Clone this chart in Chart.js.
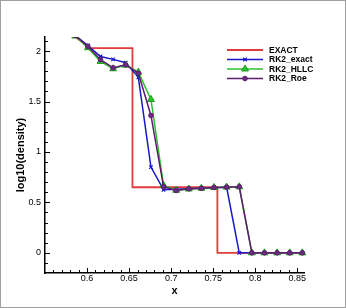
<!DOCTYPE html>
<html>
<head>
<meta charset="utf-8">
<script src="https://cdn.jsdelivr.net/npm/chart.js"></script>
<style>
  html, body { margin: 0; padding: 0; background: #fff; }
  #frame { position: absolute; left: 0; top: 0; width: 344px; height: 306px; border: 1px solid #a0a0a0; }
  #grafico { position: absolute; left: -1px; top: -1px; }
</style>
</head>
<body>
<div id="frame"><canvas id="grafico" width="346" height="308"></canvas></div>
<script>
// grid points of the numerical solutions
const xGrid = [0.571, 0.586, 0.601, 0.616, 0.631, 0.646, 0.661, 0.676, 0.691, 0.706,
  0.721, 0.736, 0.751, 0.766, 0.781, 0.796, 0.811, 0.826, 0.841, 0.856];
const rk2Exact = [2.26, 2.155, 2.056, 1.947, 1.918, 1.885, 1.74, 0.85, 0.625, 0.63,
  0.635, 0.64, 0.645, 0.65, 0, 0, 0, 0, 0, 0];
const rk2Hllc = [2.25, 2.15, 2.034, 1.898, 1.825, 1.861, 1.792, 1.521, 0.668, 0.62,
  0.633, 0.64, 0.648, 0.652, 0.655, 0, 0, 0, 0, 0];
const rk2Roe = [2.25, 2.155, 2.047, 1.915, 1.835, 1.865, 1.78, 1.362, 0.655, 0.618,
  0.635, 0.64, 0.648, 0.651, 0.655, 0, 0, 0, 0, 0];

// exact solution (piecewise)
const exactX = [0.575, 0.6036, 0.654, 0.654, 0.755, 0.755, 0.858];
const exactY = [2.21, 2.03, 2.03, 0.65, 0.65, 0, 0];

const xTicks = [0.6, 0.65, 0.7, 0.75, 0.8, 0.85];
const yTicks = [0, 0.5, 1, 1.5, 2];

function pares(xs, ys) {
  return xs.map((x, i) => ({ x: x, y: ys[i] }));
}

// tecplot-like inward ticks
const ticksDentro = {
  id: "ticksDentro",
  afterDraw(chart) {
    const { ctx, chartArea } = chart;
    const sx = chart.scales.x;
    const sy = chart.scales.y;
    ctx.save();
    ctx.strokeStyle = "#000";
    ctx.lineWidth = 1;
    ctx.beginPath();
    for (let k = 56; k <= 85; k++) {
      const px = Math.round(sx.getPixelForValue(k / 100)) + 0.5;
      const len = k % 5 === 0 ? 5 : 3;
      ctx.moveTo(px, chartArea.bottom);
      ctx.lineTo(px, chartArea.bottom - len);
    }
    for (let k = -1; k <= 21; k++) {
      const py = Math.round(sy.getPixelForValue(k / 10)) + 0.5;
      const len = k % 5 === 0 ? 5 : 3;
      ctx.moveTo(chartArea.left, py);
      ctx.lineTo(chartArea.left + len, py);
    }
    ctx.stroke();
    ctx.restore();
  },
};

// legend drawn in the upper right
const legendaTecplot = {
  id: "legendaTecplot",
  afterDraw(chart) {
    const ctx = chart.ctx;
    ctx.save();
    chart.data.datasets.forEach((ds, i) => {
      const yy = 50 + i * 9.5;
      ctx.strokeStyle = ds.borderColor;
      ctx.lineWidth = ds.borderWidth;
      ctx.beginPath();
      ctx.moveTo(227, yy);
      ctx.lineTo(263, yy);
      ctx.stroke();
      if (ds.pointRadius > 0) {
        ctx.fillStyle = ds.pointBackgroundColor;
        ctx.strokeStyle = ds.pointBorderColor;
        ctx.lineWidth = ds.pointBorderWidth;
        Chart.helpers.drawPoint(ctx, {
          pointStyle: ds.pointStyle,
          radius: ds.pointRadius,
          rotation: 0,
          borderWidth: ds.pointBorderWidth,
        }, 245, yy);
      }
      ctx.fillStyle = "#000";
      ctx.font = "bold 8.5px 'Liberation Sans', Arial, sans-serif";
      ctx.textBaseline = "middle";
      ctx.textAlign = "left";
      ctx.fillText(ds.label, 269, yy + 0.5);
    });
    ctx.restore();
  },
};

const fonteTicks = { family: "'Liberation Sans', Arial, sans-serif", size: 9 };
const fonteTitulo = { family: "'Liberation Sans', Arial, sans-serif", size: 11, weight: "bold" };
const recorte = { top: 0, left: 0, right: 8, bottom: 8 };

new Chart(document.getElementById("grafico"), {
  type: "scatter",
  data: {
    datasets: [
      {
        label: "EXACT",
        data: pares(exactX, exactY),
        showLine: true,
        borderColor: "#e23b3b",
        borderWidth: 1.8,
        pointRadius: 0,
        pointBorderWidth: 0,
        order: 4,
        clip: recorte,
      },
      {
        label: "RK2_exact",
        data: pares(xGrid, rk2Exact),
        showLine: true,
        borderColor: "#1818c8",
        borderWidth: 1.5,
        pointStyle: "crossRot",
        pointRadius: 2.5,
        pointBorderWidth: 1.2,
        pointBorderColor: "#1818c8",
        pointBackgroundColor: "#1818c8",
        order: 3,
        clip: recorte,
      },
      {
        label: "RK2_HLLC",
        data: pares(xGrid, rk2Hllc),
        showLine: true,
        borderColor: "#2cc22c",
        borderWidth: 1.5,
        pointStyle: "triangle",
        pointRadius: 4,
        pointBorderWidth: 1,
        pointBorderColor: "#1f9a1f",
        pointBackgroundColor: "#2cc22c",
        order: 2,
        clip: recorte,
      },
      {
        label: "RK2_Roe",
        data: pares(xGrid, rk2Roe),
        showLine: true,
        borderColor: "#5e1a6e",
        borderWidth: 1.5,
        pointStyle: "circle",
        pointRadius: 2.3,
        pointBorderWidth: 1,
        pointBorderColor: "#5e1a6e",
        pointBackgroundColor: "#6e2a80",
        order: 1,
        clip: recorte,
      },
    ],
  },
  options: {
    responsive: false,
    animation: false,
    layout: { padding: { top: 37, right: 42, left: 0, bottom: 0 } },
    plugins: { legend: { display: false }, tooltip: { enabled: false } },
    scales: {
      x: {
        type: "linear",
        min: 0.55,
        max: 0.858,
        afterFit: (scale) => { scale.height = 35; },
        afterBuildTicks: (scale) => { scale.ticks = xTicks.map((v) => ({ value: v })); },
        grid: { display: false, drawTicks: false },
        border: { display: true, color: "#000", width: 1.5 },
        ticks: { color: "#000", font: fonteTicks, padding: 0, maxRotation: 0, callback: (v) => String(v) },
        title: { display: true, text: "x", color: "#000", font: fonteTitulo, padding: { top: 4, bottom: 10 } },
      },
      y: {
        type: "linear",
        min: -0.2,
        max: 2.14,
        afterFit: (scale) => { scale.width = 45; },
        afterBuildTicks: (scale) => { scale.ticks = yTicks.map((v) => ({ value: v })); },
        grid: { display: false, drawTicks: false },
        border: { display: true, color: "#000", width: 1.5 },
        ticks: { color: "#000", font: fonteTicks, padding: 4, callback: (v) => String(v) },
        title: { display: true, text: "log10(density)", color: "#000", font: fonteTitulo, padding: { top: 14, bottom: 4 } },
      },
    },
  },
  plugins: [ticksDentro, legendaTecplot],
});
</script>
</body>
</html>
